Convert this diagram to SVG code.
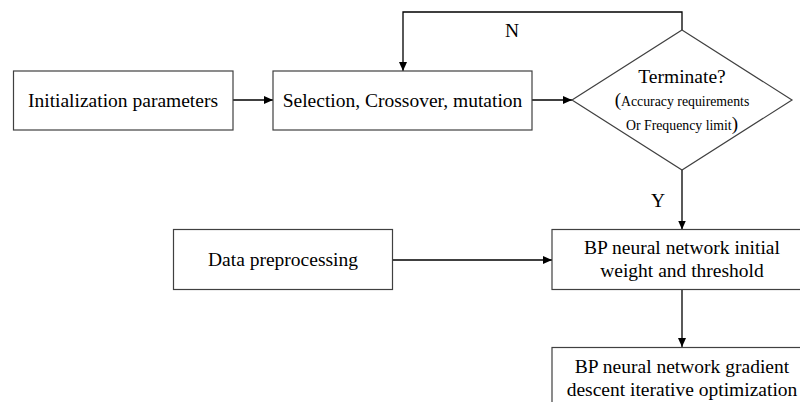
<svg xmlns="http://www.w3.org/2000/svg" width="800" height="402" viewBox="0 0 800 402">
  <style>
    .box { fill: #ffffff; stroke: #404040; stroke-width: 1.2; }
    .lbl { font-family: "Liberation Serif", "Times New Roman", serif; font-size: 19.5px; fill: #000; text-anchor: middle; }
    .sm { font-size: 13.8px; }
    .par { font-size: 19px; }
    .wire { fill: none; stroke: #000; stroke-width: 1.3; }
  </style>
  <defs>
    <marker id="arrow" markerWidth="10" markerHeight="8" refX="9" refY="4" orient="auto" markerUnits="userSpaceOnUse">
      <path d="M0,0 L9,4 L0,8 Z" fill="#000"/>
    </marker>
  </defs>
  <rect width="800" height="402" fill="#ffffff"/>

  <g id="connectors">
    <line class="wire" x1="233" y1="100" x2="273" y2="100" marker-end="url(#arrow)"/>
    <line class="wire" x1="532" y1="100" x2="572" y2="100" marker-end="url(#arrow)"/>
    <polyline class="wire" points="682,30 682,12 403,12 403,71" marker-end="url(#arrow)"/>
    <line class="wire" x1="682" y1="170" x2="682" y2="229.5" marker-end="url(#arrow)"/>
    <line class="wire" x1="392" y1="260" x2="552" y2="260" marker-end="url(#arrow)"/>
    <line class="wire" x1="682" y1="289" x2="682" y2="347" marker-end="url(#arrow)"/>
    <text class="lbl" x="512" y="37">N</text>
    <text class="lbl" x="658" y="207">Y</text>
  </g>

  <g id="init">
    <rect class="box" x="13.5" y="71" width="219.5" height="59"/>
    <text class="lbl" x="123" y="107">Initialization parameters</text>
  </g>

  <g id="ga-ops">
    <rect class="box" x="273" y="71" width="259" height="59"/>
    <text class="lbl" x="402.5" y="107">Selection, Crossover, mutation</text>
  </g>

  <g id="terminate">
    <polygon class="box" points="682,30 792,100 682,170 572,100"/>
    <text class="lbl" x="682" y="83">Terminate?</text>
    <text class="lbl sm" x="682" y="106"><tspan class="par">(</tspan>Accuracy requirements</text>
    <text class="lbl sm" x="682" y="129.5">Or Frequency limit<tspan class="par">)</tspan></text>
  </g>

  <g id="preprocess">
    <rect class="box" x="173.5" y="229.5" width="219" height="60"/>
    <text class="lbl" x="283" y="266">Data preprocessing</text>
  </g>

  <g id="bp-init">
    <rect class="box" x="552" y="229.5" width="260" height="60"/>
    <text class="lbl" x="682" y="254">BP neural network initial</text>
    <text class="lbl" x="682" y="277">weight and threshold</text>
  </g>

  <g id="bp-optimize">
    <rect class="box" x="552" y="347.5" width="260" height="60"/>
    <text class="lbl" x="682" y="373">BP neural network gradient</text>
    <text class="lbl" x="682" y="396">descent iterative optimization</text>
  </g>
</svg>
